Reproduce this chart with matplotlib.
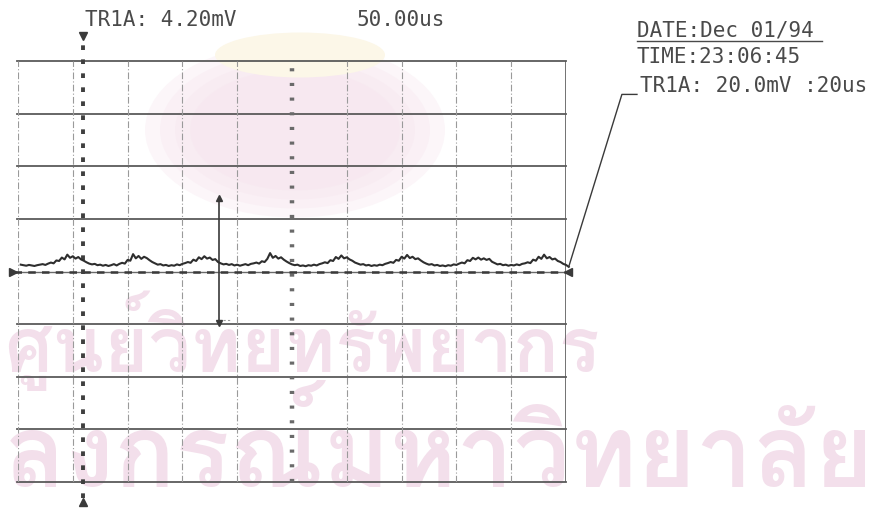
import matplotlib.pyplot as plt
import numpy as np
from matplotlib import font_manager, ft2font
from matplotlib.patches import Ellipse

# scope settings: 10 x 8 divisions, 20 us/div, 20 mV/div
us_per_div = 20.0
mv_per_div = 20.0
n_xdiv = 10
n_ydiv = 8

# channel trace (mV), one sample per microsecond
t_start = 1.0
t_step = 1.0
trace_mv = [
    2.6, 2.4, 2.2, 2.5, 2.3, 2.1, 2.4, 2.6,
    2.8, 2.5, 3.0, 3.4, 3.1, 4.2, 4.0, 5.3, 4.6, 6.4, 5.2, 5.8, 4.9, 5.5,
    4.6, 4.1, 3.5, 3.0, 2.7, 2.9, 2.4, 2.6,
    2.2, 2.5, 2.1, 2.4, 2.8, 2.3,
    2.9, 3.3, 3.0, 4.4, 4.1, 6.6, 5.0, 5.9, 4.8, 5.6, 5.1, 4.3, 3.6, 3.1,
    2.6, 2.8, 2.3, 2.5, 2.1, 2.4, 2.2, 2.7, 2.4, 2.9,
    3.2, 3.6, 3.3, 4.5, 4.0, 5.4, 4.7, 5.8, 4.9, 5.3, 4.4, 4.7, 3.6, 3.1,
    2.7, 2.9, 2.5, 2.8, 2.3, 2.6, 2.2, 2.5, 2.8, 2.4, 2.9, 3.1,
    3.4, 3.0, 3.9, 3.6, 4.8, 7.0, 5.2, 5.9, 4.9, 5.4, 4.5, 3.8, 3.2, 2.7,
    2.4, 2.6, 2.1, 2.3, 2.0, 2.4, 2.2, 2.6, 2.3, 2.8, 3.1,
    3.5, 3.2, 4.3, 4.0, 5.5, 4.8, 6.1, 5.0, 5.4, 4.6, 4.1, 3.4, 3.0,
    2.6, 2.8, 2.3, 2.5, 2.1, 2.4, 2.2, 2.6, 2.4, 2.9, 3.2,
    3.6, 3.3, 4.4, 4.1, 5.6, 4.9, 6.3, 5.1, 5.6, 4.7, 5.0, 4.2, 3.5, 3.0,
    2.6, 2.8, 2.3, 2.5, 2.1, 2.3, 2.0, 2.4, 2.2, 2.7, 2.5,
    3.0, 3.4, 3.1, 4.3, 4.0, 5.2, 4.6, 5.3, 4.5, 5.0, 4.4, 4.8, 3.7, 3.2,
    2.7, 2.9, 2.4, 2.6, 2.2, 2.5, 2.3, 2.7, 2.4, 2.9, 3.1,
    3.5, 3.2, 4.5, 4.1, 5.6, 4.8, 6.4, 5.0, 5.5, 4.6, 4.9, 4.0, 3.6, 2.9,
    2.5, 1.8,
]

# cursors
marker_t = 23.7                    # trigger marker (dotted vertical)
cursor_t = 73.4                    # measurement cursor
cursor_top_mv = 28.0
cursor_bottom_mv = -19.5

header_left = "TR1A: 4.20mV"
header_mid = "50.00us"
date_text = "DATE:Dec 01/94"
time_text = "TIME:23:06:45"
channel_text = "TR1A: 20.0mV :20us"

# library stamp printed on the page
stamp_line1 = "ศูนย์วิทยทรัพยากร"
stamp_line2 = "ลงกรณ์มหาวิทยาลัย"

W, H = 878, 508
ink = "#3a3a3a"
grid_ink = "#5a5a5a"
faint = "#9a9a9a"
stamp = "#f3dfeb"
mono = "DejaVu Sans Mono"


def px(x, y):
    return x / W, 1 - y / H


def thai_family():
    for f in font_manager.fontManager.ttflist:
        try:
            if ft2font.FT2Font(f.fname).get_char_index(ord("ศ")):
                return f.name
        except Exception:
            pass
    return None


def fit_text(axis, x_left, x_right, y_base, s, family):
    # size the text so it spans x_left..x_right
    t = axis.text(x_left, y_base, s, family=family, fontsize=60,
                  fontweight="bold", color=stamp, ha="left", va="baseline")
    r = fig.canvas.get_renderer()
    w = t.get_window_extent(r).width
    t.set_fontsize(60 * (x_right - x_left) / w)
    return t


fig = plt.figure(figsize=(W / 100, H / 100), dpi=100)
fig.patch.set_facecolor("white")

bg = fig.add_axes([0, 0, 1, 1], zorder=0)
bg.set_xlim(0, W)
bg.set_ylim(H, 0)
bg.axis("off")
for k, a in enumerate([0.35, 0.35, 0.4, 0.5]):
    bg.add_patch(Ellipse((295, 130), 300 - 30 * k, 175 - 18 * k,
                         color="#f7e6ef", alpha=a, lw=0))
bg.add_patch(Ellipse((300, 55), 170, 45, color="#fcf7e8", lw=0))
fam = thai_family()
if fam:
    fit_text(bg, 4, 600, 372, stamp_line1, fam)
    fit_text(bg, 4, 874, 487, stamp_line2, fam)

x0, y0 = px(18, 482)
x1, y1 = px(566, 61)
ax = fig.add_axes([x0, y0, x1 - x0, y1 - y0], zorder=1)
ax.patch.set_alpha(0)
xmax = n_xdiv * us_per_div
ymax = n_ydiv / 2 * mv_per_div
ax.set_xlim(0, xmax)
ax.set_ylim(-ymax, ymax)
ax.axis("off")

# horizontal graticule
for k in range(-n_ydiv // 2, n_ydiv // 2 + 1):
    if k == 0:
        continue
    ax.plot([-0.3, xmax], [k * mv_per_div] * 2, color=grid_ink, lw=1.3,
            clip_on=False)

# vertical graticule
for k in range(n_xdiv + 1):
    x = k * us_per_div
    if k == n_xdiv:
        ax.plot([x, x], [-ymax, ymax], color=grid_ink, lw=1.2)
    elif k == n_xdiv // 2:
        ax.plot([x, x], [-ymax, ymax], color="#6a6a6a", lw=3.2,
                dashes=(0.7, 2.6))
    else:
        ax.plot([x, x], [-ymax, ymax], color=faint, lw=0.8,
                dashes=(6, 2, 1, 2))

# ground reference with end markers
ax.plot([-1.5, xmax + 0.6], [0, 0], color="#6a6a6a", lw=1.0, clip_on=False)
ax.plot([-1.5, xmax + 0.6], [0, 0], color=ink, lw=1.8, dashes=(3, 2.5),
        clip_on=False)
ax.plot([-1.8], [0], marker=">", ms=6, color=ink, clip_on=False)
ax.plot([xmax + 0.8], [0], marker="<", ms=6, color=ink, clip_on=False)

# trigger marker
ax.plot([marker_t, marker_t], [-86, 88], color="#3f3f3f", lw=2.8,
        dashes=(1.2, 2.4), clip_on=False)
ax.plot([marker_t], [89.5], marker="v", ms=6, color=ink, clip_on=False)
ax.plot([marker_t], [-87.5], marker="^", ms=6, color=ink, clip_on=False)

# measurement cursor
ax.plot([cursor_t, cursor_t], [cursor_bottom_mv, cursor_top_mv], color=ink,
        lw=1.2)
ax.plot([cursor_t], [cursor_top_mv], marker="^", ms=5, color=ink)
ax.plot([cursor_t], [cursor_bottom_mv], marker="v", ms=5, color=ink)
ax.plot([cursor_t + 1.5, cursor_t + 4.5], [cursor_bottom_mv + 1.2] * 2,
        color=faint, lw=0.8, dashes=(2, 2))

# signal
t = t_start + t_step * np.arange(len(trace_mv))
ax.plot(t, trace_mv, color="#2e2e2e", lw=1.5, clip_on=False)

# leader from trace end to the channel label
ax.plot([t[-1], 220.4, 225.9], [trace_mv[-1], 67.3, 67.3], color=ink,
        lw=1.0, clip_on=False)

txt = dict(family=mono, fontsize=15, color="#4a4a4a", va="center", ha="left")
fig.text(*px(85, 20), header_left, **txt)
fig.text(*px(357, 20), header_mid, **txt)
fig.text(*px(637, 30), date_text, **txt)
fig.text(*px(637, 57), time_text, **txt)
fig.text(*px(640, 86), channel_text, **txt)
fig.add_artist(plt.Line2D([637 / W, 822 / W], [1 - 41 / H] * 2,
                          color="#4a4a4a", lw=1.0))

fig.savefig("out.png", dpi=100)
